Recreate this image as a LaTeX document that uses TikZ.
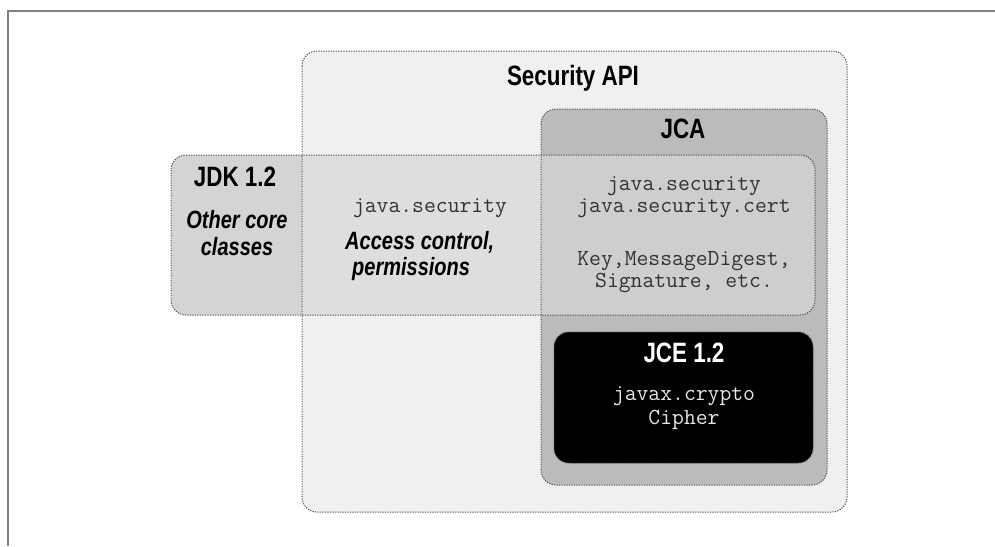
\documentclass[tikz,border=0pt]{standalone}
\usepackage{fontspec}
\setmainfont{Liberation Sans}
\newfontfamily\condfont[FakeStretch=0.8]{Liberation Sans}
\usetikzlibrary{positioning}

\tikzset{
  boxline/.style={draw=black!70, line width=1pt, dash pattern=on 1.2pt off 1.3pt},
  heading/.style={font=\condfont\bfseries\fontsize{28}{28}\selectfont, anchor=base, inner sep=0pt},
  remark/.style={font=\condfont\bfseries\itshape\fontsize{25}{25}\selectfont, anchor=base, inner sep=0pt},
  pkg/.style={font=\ttfamily\fontsize{23}{23}\selectfont, anchor=base, inner sep=0pt, text=black!80},
}

\begin{document}
\begin{tikzpicture}[x=1pt, y=-1pt]

    % Grises de las capas
    \definecolor{apigray}{RGB}{240,240,240}
    \definecolor{jcagray}{RGB}{187,187,187}
    \definecolor{jdkleft}{RGB}{212,212,212}
    \definecolor{jdkmid}{RGB}{222,222,222}
    \definecolor{jdkright}{RGB}{206,206,206}

    \useasboundingbox (0,0) rectangle (995,546);

    % --- marco exterior ---
    \draw[gray, line width=2pt] (8,546) -- (8,11) -- (995,11);

    % --- 1. RELLENOS ---
    \fill[apigray, rounded corners=15pt] (302,51) rectangle (847,512);
    \fill[jcagray, rounded corners=15pt] (541,109) rectangle (827,485);

    % banda JDK en tres tramos
    \foreach \xa/\xb/\col in {171/302/jdkleft, 302/541/jdkmid, 541/815/jdkright} {
        \begin{scope}
            \clip (\xa,150) rectangle (\xb,320);
            \fill[\col, rounded corners=15pt] (171,155) rectangle (815,315);
        \end{scope}
    }

    % --- 2. BORDES PUNTEADOS ---
    \draw[boxline, rounded corners=15pt] (302,51) rectangle (847,512);
    \draw[boxline, rounded corners=15pt] (541,109) rectangle (827,485);
    \draw[boxline, rounded corners=15pt] (171,155) rectangle (815,315);
    \filldraw[boxline, fill=black, rounded corners=15pt] (554,332) rectangle (813,463);

    % --- 3. TEXTOS ---
    \node[heading] (api) at (573,85) {Security API};
    \node[heading] (jca) at (683,138) {JCA};
    \node[heading] (jdk) at (235,186) {JDK 1.2};
    \node[remark] (other) at (237,228) {Other core};
    \node[remark] (classes) at (237,255) {classes};

    \node[pkg] (jsec) at (430,212) {java.security};
    \node[remark, anchor=base west] (access) at (345,249) {Access control,};
    \node[remark, anchor=base west] (perm) at (352,275) {permissions};

    \node[pkg] (jcasec) at (684,190) {java.security};
    \node[pkg] (jcacert) at (684,212) {java.security.cert};
    \node[pkg] (jcakey) at (684,265) {Key,MessageDigest,};
    \node[pkg] (jcasig) at (684,287) {Signature, etc.};

    \node[heading, text=white] (jce) at (684,362) {JCE 1.2};
    \node[pkg, text=black!10] (crypto) at (684,400) {javax.crypto};
    \node[pkg, text=black!10] (cipher) at (684,424) {Cipher};

\end{tikzpicture}
\end{document}
